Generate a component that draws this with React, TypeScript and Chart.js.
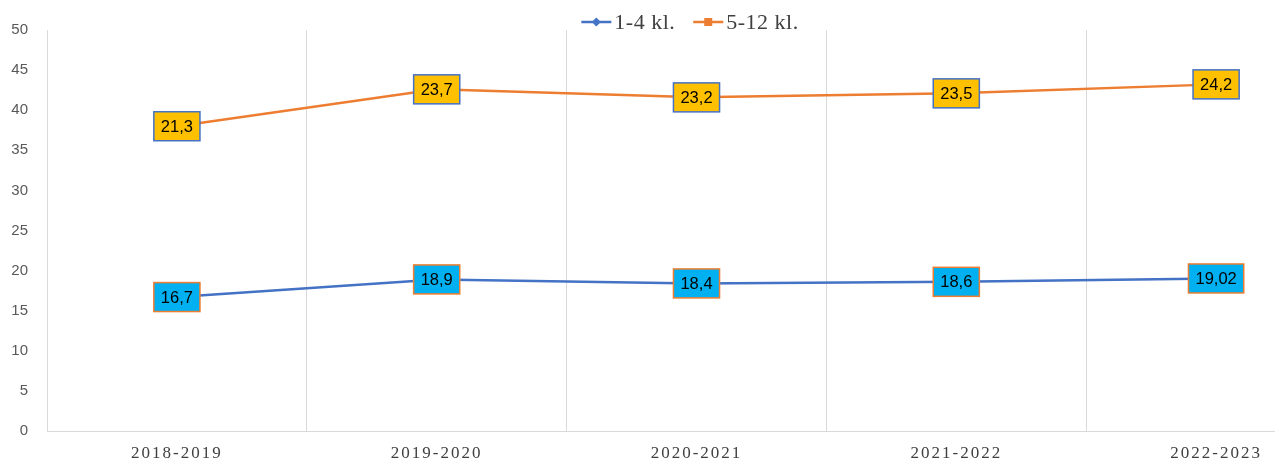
import React, { useEffect, useRef } from "react";
import { Chart, registerables } from "chart.js";
Chart.register(...registerables);

const categories = ["2018-2019", "2019-2020", "2020-2021", "2021-2022", "2022-2023"];
const seriesNames = ["1-4 kl.", "5-12 kl."];
const series1 = [16.7, 18.9, 18.4, 18.6, 19.02];
const series2 = [21.3, 23.7, 23.2, 23.5, 24.2];
const yMin = 0;
const yMax = 50;
const yStep = 5;

const BLUE = "#4472C4";
const ORANGE = "#ED7D31";
const CANVAS_W = 1380;
const CANVAS_H = 461;

const fmt = (v: number) => String(v).replace(".", ",");

const labelPlugin = {
  id: "boxLabels",
  afterDatasetsDraw(chart: any) {
    const ctx = chart.ctx;
    const styles = [
      { fill: "#00B0F0", border: ORANGE },
      { fill: "#FFC000", border: BLUE },
    ];
    ctx.save();
    ctx.font = "16.5px 'Liberation Sans', Arial, sans-serif";
    ctx.textAlign = "center";
    ctx.textBaseline = "middle";
    chart.data.datasets.forEach((ds: any, di: number) => {
      const meta = chart.getDatasetMeta(di);
      meta.data.forEach((pt: any, i: number) => {
        const text = fmt(ds.data[i]);
        const w = ctx.measureText(text).width + 14;
        const h = 29;
        const x = pt.x - w / 2;
        const y = pt.y - h / 2;
        ctx.fillStyle = styles[di].fill;
        ctx.fillRect(x, y, w, h);
        ctx.strokeStyle = styles[di].border;
        ctx.lineWidth = 1.5;
        ctx.strokeRect(x, y, w, h);
        ctx.fillStyle = "#000000";
        ctx.fillText(text, pt.x, pt.y + 1);
      });
    });
    ctx.restore();
  },
  afterDraw(chart: any) {
    const ctx = chart.ctx;
    const xs = chart.scales.x;
    // x-axis category labels
    ctx.save();
    ctx.font = "17px 'Liberation Serif', 'Times New Roman', serif";
    (ctx as any).letterSpacing = "2px";
    ctx.fillStyle = "#404040";
    ctx.textAlign = "center";
    ctx.textBaseline = "middle";
    categories.forEach((c, i) => {
      ctx.fillText(c, xs.getPixelForValue(i), chart.chartArea.bottom + 23);
    });
    ctx.restore();

    // legend
    ctx.save();
    ctx.font = "22px 'Liberation Serif', 'Times New Roman', serif";
    (ctx as any).letterSpacing = "0.5px";
    ctx.fillStyle = "#404040";
    ctx.textBaseline = "middle";
    ctx.textAlign = "left";
    const lineLen = 30;
    const gapAfterLine = 3;
    const gapBetween = 18;
    const widths = seriesNames.map((n) => ctx.measureText(n).width);
    const total = widths.reduce((a, w) => a + lineLen + gapAfterLine + w, 0) + gapBetween;
    let lx = CANVAS_W / 2 - total / 2;
    const ly = 22;
    const colors = [BLUE, ORANGE];
    seriesNames.forEach((n, i) => {
      ctx.strokeStyle = colors[i];
      ctx.lineWidth = 2.5;
      ctx.beginPath();
      ctx.moveTo(lx, ly);
      ctx.lineTo(lx + lineLen, ly);
      ctx.stroke();
      ctx.fillStyle = colors[i];
      const cx = lx + lineLen / 2;
      if (i === 0) {
        ctx.beginPath();
        ctx.moveTo(cx, ly - 4.5);
        ctx.lineTo(cx + 4.5, ly);
        ctx.lineTo(cx, ly + 4.5);
        ctx.lineTo(cx - 4.5, ly);
        ctx.closePath();
        ctx.fill();
      } else {
        ctx.fillRect(cx - 4, ly - 4, 8, 8);
      }
      ctx.fillStyle = "#404040";
      ctx.fillText(n, lx + lineLen + gapAfterLine, ly + 1);
      lx += lineLen + gapAfterLine + widths[i] + gapBetween;
    });
    ctx.restore();
  },
};

export default function App() {
  const ref = useRef<HTMLCanvasElement | null>(null);
  useEffect(() => {
    if (!ref.current) return;
    const chart = new Chart(ref.current, {
      type: "line",
      data: {
        labels: categories,
        datasets: [
          {
            label: seriesNames[0],
            data: series1,
            borderColor: BLUE,
            backgroundColor: BLUE,
            borderWidth: 2.5,
            pointRadius: 0,
            fill: false,
            tension: 0,
          },
          {
            label: seriesNames[1],
            data: series2,
            borderColor: ORANGE,
            backgroundColor: ORANGE,
            borderWidth: 2.5,
            pointRadius: 0,
            fill: false,
            tension: 0,
          },
        ],
      },
      options: {
        animation: false,
        responsive: false,
        maintainAspectRatio: false,
        layout: { padding: { top: 30, right: 34, bottom: 0, left: 0 } },
        plugins: {
          legend: { display: false },
          tooltip: { enabled: false },
        },
        scales: {
          x: {
            type: "category",
            offset: true,
            grid: { display: true, offset: true, color: "#D9D9D9", lineWidth: 1, drawTicks: false },
            border: { display: true, color: "#D9D9D9" },
            ticks: { display: false },
            afterFit: (s: any) => {
              s.height = 30;
            },
          },
          y: {
            stacked: true,
            min: yMin,
            max: yMax,
            ticks: {
              stepSize: yStep,
              padding: 19,
              color: "#595959",
              font: { family: "'Liberation Sans', Arial, sans-serif", size: 15 },
            },
            grid: { display: false, drawTicks: false },
            border: { display: true, color: "#D9D9D9" },
            afterFit: (s: any) => {
              s.width = 47;
            },
          },
        },
      },
      plugins: [labelPlugin],
    });
    return () => chart.destroy();
  }, []);
  return (
    <div
      style={{
        position: "fixed",
        left: 0,
        top: 0,
        width: 1275,
        height: 461,
        overflow: "hidden",
        background: "#ffffff",
      }}
    >
      <canvas ref={ref} width={CANVAS_W} height={CANVAS_H} style={{ display: "block" }} />
    </div>
  );
}
